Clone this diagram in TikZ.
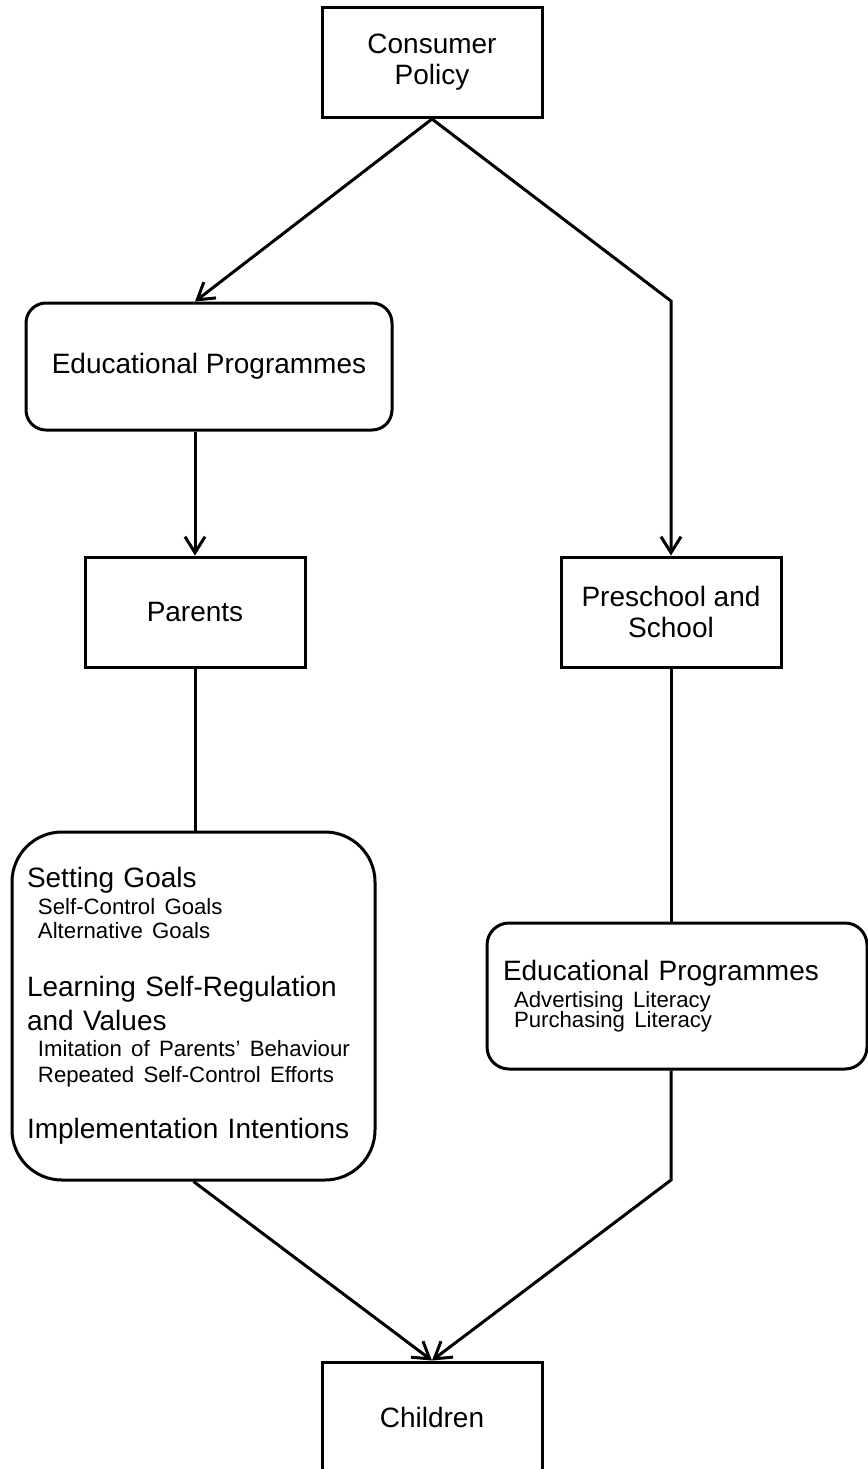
\documentclass[tikz,border=0pt]{standalone}
\usepackage{fontspec}
\setmainfont{Liberation Sans}
\usetikzlibrary{arrows.meta, positioning}

\newcommand{\mainsize}{\fontsize{14}{15.5}\selectfont}
\newcommand{\listsize}{\fontsize{14}{17}\selectfont}
\newcommand{\detail}[1]{\hspace*{5.5pt}\mbox{\fontsize{11.1}{12}\selectfont #1}}

\begin{document}
\begin{tikzpicture}[x=0.5pt, y=-0.5pt,
      box/.style={draw, line width=1.5pt, align=center, inner sep=0pt,
                  font=\mainsize, minimum width=110pt, minimum height=55pt},
      rbox/.style={box, rounded corners=10pt},
      listbox/.style={rbox, align=left, font=\listsize},
      link/.style={line width=1.5pt},
      arr/.style={link, -{Straight Barb[length=8pt, width=10pt]}}]
    \useasboundingbox (0,0) rectangle (868,1469);
    \node[box] (policy) at (432,62.5) {Consumer\\Policy};
    \node[rbox, minimum width=183pt, minimum height=63.5pt] (edu) at (209,366.5)
      {Educational Programmes};
    \node[box] (parents) at (195,612) {Parents};
    \node[box] (school) at (671,612) {Preschool and\\School};
    \node[listbox, minimum width=181.5pt, minimum height=174pt,
          rounded corners=25pt, text width=166.5pt] (goals) at (193.5,1006) {%
      Setting Goals\\[-3.5pt]
      \detail{Self-Control Goals}\\[-5pt]
      \detail{Alternative Goals}\\[12pt]
      Learning Self-Regulation\\
      and Values\\[-4pt]
      \detail{Imitation of Parents’ Behaviour}\\[-4pt]
      \detail{Repeated Self-Control Efforts}\\[11pt]
      Implementation Intentions};
    \node[listbox, minimum width=190pt, minimum height=73pt,
          rounded corners=11pt, text width=174pt] (literacy) at (677,996) {%
      Educational Programmes\\[-3.5pt]
      \detail{Advertising Literacy}\\[-7pt]
      \detail{Purchasing Literacy}};
    \node[box] (children) at (432,1417) {Children};
    % bends of the right-hand branch
    \coordinate (topbend) at (671,301);
    \coordinate (lowbend) at (671,1180);
    \draw[arr] (policy.south) -- (edu.north -| parents.north);
    \draw[arr] (edu.south -| parents.north) -- (parents.north);
    \draw[arr] (policy.south) -- (topbend) -- (school.north);
    \draw[link] (parents.south) -- (parents.south |- goals.north);
    \draw[link] (school.south) -- (school.south |- literacy.north);
    \draw[arr] (goals.south) -- (children.north);
    \draw[arr] (school.south |- literacy.south) -- (lowbend) -- (children.north);
  \end{tikzpicture}
\end{document}
